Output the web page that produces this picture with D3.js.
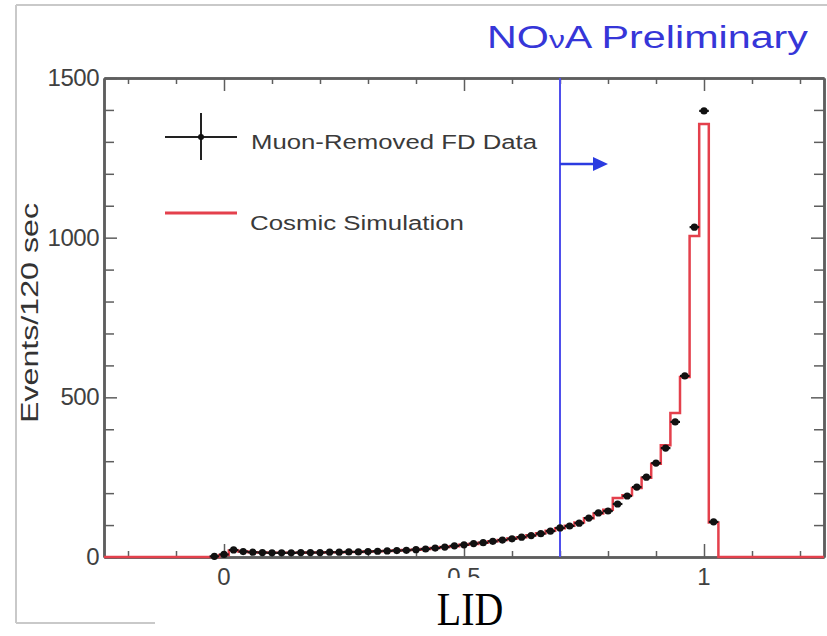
<!DOCTYPE html>
<html>
<head>
<meta charset="utf-8">
<script src="https://cdn.jsdelivr.net/npm/d3@7"></script>
<style>
  html, body { margin: 0; padding: 0; background: #fff; }
  svg { display: block; }
  text { font-family: "Liberation Sans", Arial, Helvetica, sans-serif; }
  text.serif { font-family: "Liberation Serif", "Times New Roman", serif; }
</style>
</head>
<body>
<svg id="chart" width="827" height="636"></svg>
<script>
// LID distribution: bin centres (width 0.02) and event counts per 120 s
const binCenters = [-0.02, 0.00, 0.02, 0.04, 0.06, 0.08, 0.10, 0.12, 0.14, 0.16,
  0.18, 0.20, 0.22, 0.24, 0.26, 0.28, 0.30, 0.32, 0.34, 0.36,
  0.38, 0.40, 0.42, 0.44, 0.46, 0.48, 0.50, 0.52, 0.54, 0.56,
  0.58, 0.60, 0.62, 0.64, 0.66, 0.68, 0.70, 0.72, 0.74, 0.76,
  0.78, 0.80, 0.82, 0.84, 0.86, 0.88, 0.90, 0.92, 0.94, 0.96,
  0.98, 1.00, 1.02];
const dataValues = [2, 8, 22, 17, 15, 14, 13, 13, 13, 14,
  14, 14, 15, 15, 16, 16, 17, 18, 19, 20,
  21, 23, 25, 28, 31, 35, 38, 42, 45, 49,
  53, 57, 62, 67, 73, 81, 91, 97, 106, 122,
  138, 144, 166, 191, 219, 250, 294, 341, 423, 567,
  1033, 1397, 110];
const simValues = [0, 6, 20, 17, 15, 14, 13, 13, 13, 13,
  14, 14, 15, 15, 16, 16, 17, 18, 19, 20,
  22, 23, 25, 28, 31, 34, 38, 41, 45, 49,
  53, 58, 62, 68, 74, 82, 90, 98, 108, 121,
  136, 148, 185, 193, 216, 248, 292, 350, 451, 564,
  1005, 1356, 108];
const binWidth = 0.02;
const xDomain = [-0.25, 1.25];
const yDomain = [0, 1500];
const xMajorTicks = [0, 0.5, 1];
const xMajorLabels = ["0", "0.5", "1"];
const xMinorTicks = [-0.2, -0.1, 0.1, 0.2, 0.3, 0.4, 0.6, 0.7, 0.8, 0.9, 1.1, 1.2];
const yMajorTicks = [0, 500, 1000, 1500];
const yMajorLabels = ["0", "500", "1000", "1500"];
const yMinorTicks = [100, 200, 300, 400, 600, 700, 800, 900, 1100, 1200, 1300, 1400];
const cutValue = 0.7;
const legendLabels = ["Muon-Removed FD Data", "Cosmic Simulation"];
const titleParts = ["NO", "ν", "A Preliminary"];
const xTitle = "LID";
const yTitle = "Events/120 sec";

const svg = d3.select("#chart");
const frame = { left: 104, right: 824, top: 78, bottom: 557 };
const x = d3.scaleLinear().domain(xDomain).range([frame.left, frame.right]);
const y = d3.scaleLinear().domain(yDomain).range([frame.bottom, frame.top]);

const red = "#e4404c";
const axisGrey = "#5e5e5e";
const labelGrey = "#404040";

// page border of the slide
svg.append("line").attr("x1", 16).attr("x2", 827).attr("y1", 5).attr("y2", 5)
  .attr("stroke", "#c9c9c9").attr("stroke-width", 2);
svg.append("line").attr("x1", 16).attr("x2", 16).attr("y1", 5).attr("y2", 623)
  .attr("stroke", "#c9c9c9").attr("stroke-width", 2);
svg.append("line").attr("x1", 16).attr("x2", 155).attr("y1", 623).attr("y2", 623)
  .attr("stroke", "#c9c9c9").attr("stroke-width", 2);

// axes with inward ticks on all four sides
function drawAxis(axisGen, tx, ty) {
  const g = svg.append("g").attr("transform", `translate(${tx},${ty})`).call(axisGen);
  g.select(".domain").attr("stroke", axisGrey).attr("stroke-width", 2.5);
  g.selectAll(".tick line").attr("stroke", axisGrey).attr("stroke-width", 1.5);
  g.selectAll(".tick text").remove();
  return g;
}
drawAxis(d3.axisBottom(x).tickValues(xMinorTicks).tickSize(-6).tickSizeOuter(0), 0, frame.bottom);
drawAxis(d3.axisBottom(x).tickValues(xMajorTicks).tickSize(-13).tickSizeOuter(0), 0, frame.bottom);
drawAxis(d3.axisTop(x).tickValues(xMinorTicks).tickSize(-6).tickSizeOuter(0), 0, frame.top);
drawAxis(d3.axisTop(x).tickValues(xMajorTicks).tickSize(-13).tickSizeOuter(0), 0, frame.top);
drawAxis(d3.axisLeft(y).tickValues(yMinorTicks).tickSize(-10).tickSizeOuter(0), frame.left, 0);
drawAxis(d3.axisLeft(y).tickValues(yMajorTicks).tickSize(-13).tickSizeOuter(0), frame.left, 0);
drawAxis(d3.axisRight(y).tickValues(yMinorTicks).tickSize(-10).tickSizeOuter(0), frame.right, 0);
drawAxis(d3.axisRight(y).tickValues(yMajorTicks).tickSize(-13).tickSizeOuter(0), frame.right, 0);

// tick labels
svg.append("g").selectAll("text").data(yMajorTicks).join("text")
  .attr("x", frame.left - 5).attr("y", d => y(d) + 8)
  .attr("text-anchor", "end").attr("font-size", 24).attr("fill", labelGrey)
  .attr("letter-spacing", -0.5)
  .text((d, i) => yMajorLabels[i]);
svg.append("g").selectAll("text").data(xMajorTicks).join("text")
  .attr("x", d => x(d)).attr("y", 585)
  .attr("text-anchor", "middle").attr("font-size", 24).attr("fill", labelGrey)
  .text((d, i) => xMajorLabels[i]);

// simulation histogram as a step outline
const simPts = [[xDomain[0], 0], [binCenters[0] - binWidth / 2, 0]];
binCenters.forEach((c, i) => {
  simPts.push([c - binWidth / 2, simValues[i]]);
  simPts.push([c + binWidth / 2, simValues[i]]);
});
simPts.push([binCenters[binCenters.length - 1] + binWidth / 2, 0]);
simPts.push([xDomain[1], 0]);
const line = d3.line().x(d => x(d[0])).y(d => y(d[1]));
svg.append("path").attr("d", line(simPts))
  .attr("fill", "none").attr("stroke", red).attr("stroke-width", 2.5)
  .attr("stroke-linejoin", "miter");

// selection cut
svg.append("line").attr("x1", x(cutValue)).attr("x2", x(cutValue))
  .attr("y1", frame.top).attr("y2", frame.bottom)
  .attr("stroke", "#4f4fec").attr("stroke-width", 2);
const arrowY = 164;
svg.append("line").attr("x1", x(cutValue)).attr("x2", x(cutValue) + 36)
  .attr("y1", arrowY).attr("y2", arrowY)
  .attr("stroke", "#2b3be0").attr("stroke-width", 2.5);
svg.append("path")
  .attr("d", `M${x(cutValue) + 33},${arrowY - 7} L${x(cutValue) + 48},${arrowY} L${x(cutValue) + 33},${arrowY + 7} Z`)
  .attr("fill", "#2b3be0");

// data points with bin-width bars
const pts = svg.append("g");
pts.selectAll("line").data(binCenters).join("line")
  .attr("x1", d => x(d - binWidth / 2)).attr("x2", d => x(d + binWidth / 2))
  .attr("y1", (d, i) => y(dataValues[i])).attr("y2", (d, i) => y(dataValues[i]))
  .attr("stroke", "#111").attr("stroke-width", 2.2);
pts.selectAll("circle").data(binCenters).join("circle")
  .attr("cx", d => x(d)).attr("cy", (d, i) => y(dataValues[i]))
  .attr("r", 3.6).attr("fill", "#111");

// legend
const lg = svg.append("g");
lg.append("line").attr("x1", 165).attr("x2", 237).attr("y1", 137).attr("y2", 137)
  .attr("stroke", "#222").attr("stroke-width", 2);
lg.append("line").attr("x1", 201).attr("x2", 201).attr("y1", 113).attr("y2", 160)
  .attr("stroke", "#222").attr("stroke-width", 2);
lg.append("circle").attr("cx", 201).attr("cy", 137).attr("r", 3).attr("fill", "#111");
lg.append("text").attr("x", 251).attr("y", 149).attr("font-size", 20)
  .attr("fill", "#3a3a3a").attr("textLength", 286).attr("lengthAdjust", "spacingAndGlyphs")
  .text(legendLabels[0]);
lg.append("line").attr("x1", 165).attr("x2", 237).attr("y1", 213).attr("y2", 213)
  .attr("stroke", red).attr("stroke-width", 3);
lg.append("text").attr("x", 250).attr("y", 230).attr("font-size", 20)
  .attr("fill", "#3a3a3a").attr("textLength", 214).attr("lengthAdjust", "spacingAndGlyphs")
  .text(legendLabels[1]);

// title
const title = svg.append("text").attr("x", 487).attr("y", 48)
  .attr("font-size", 31).attr("fill", "#3636d8")
  .attr("textLength", 321).attr("lengthAdjust", "spacingAndGlyphs");
title.append("tspan").text(titleParts[0]);
title.append("tspan").attr("font-size", 24).text(titleParts[1]);
title.append("tspan").text(titleParts[2]);

// y axis title
svg.append("text")
  .attr("transform", "translate(38,423) rotate(-90)")
  .attr("font-size", 24).attr("fill", "#333")
  .attr("textLength", 220).attr("lengthAdjust", "spacingAndGlyphs")
  .text(yTitle);

// x axis title on its white label box
svg.append("rect").attr("x", 300).attr("y", 578).attr("width", 340).attr("height", 58)
  .attr("fill", "#fff");
svg.append("text").attr("class", "serif")
  .attr("transform", "translate(470,625) scale(0.95,1.12)")
  .attr("text-anchor", "middle").attr("font-size", 42)
  .attr("fill", "#000").text(xTitle);
</script>
</body>
</html>
